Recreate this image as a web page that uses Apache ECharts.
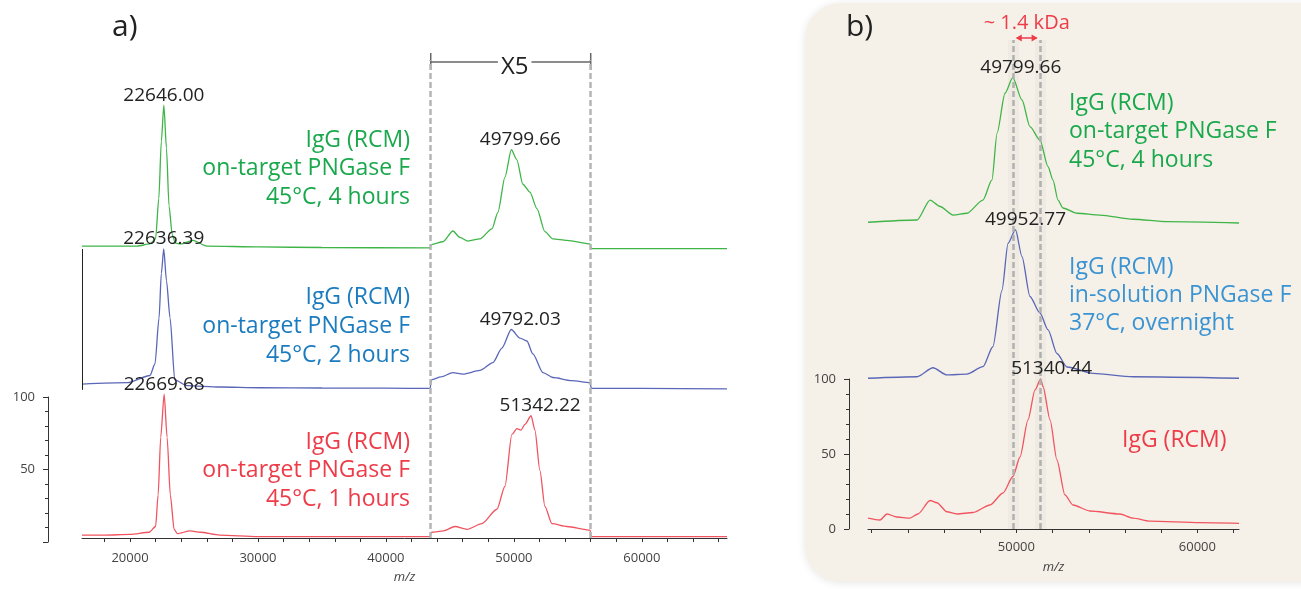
<!DOCTYPE html>
<html>
<head>
<meta charset="utf-8">
<script src="https://cdn.jsdelivr.net/npm/echarts@6/dist/echarts.min.js"></script>
<style>
html,body{margin:0;padding:0;background:#fff;}
#c{width:1301px;height:589px;}
</style>
</head>
<body>
<div id="c"></div>
<script>
// ---------- Panel a data (X5 region values are shown as displayed, i.e. already x5) ----------
const aRedX = [16250,18000,20000,21500,22000,22200,22400,22670,22900,23150,23450,23700,24700,25500,27000,30000,35000,40000,43450,
  43550,44500,45390,46330,47500,48670,49300,49840,50230,50550,50860,51342,51640,52030,52420,52970,54140,55950,
  56050,60000,66650];
const aRedY = [2,2,2.5,4,8,30,70,100,70,30,6,3,5,4,2,1,1,1,1,
  4,5,8,6,10,20,36,72,76,75,79,85,75,47,22,10,8,5.5,
  1,1,1];

const aBlueX = [16250,19800,21560,21950,22270,22450,22636,22850,23130,23500,24450,27000,30150,35000,40000,43450,
  43550,44300,45230,46020,47340,48360,49060,49792,50470,51020,51480,52270,53050,54500,55950,
  56050,60000,66650];
const aBlueY = [3,4,9,17,49,80,97,75,49,6,2,1,0.5,0.3,0.2,0,
  6,8,11,10,12.5,18,28,41,35,33,24,11,7.6,5.5,4,
  0,0,-0.3];

const aGreenX = [16250,18440,20550,21560,22000,22250,22450,22646,22850,23050,23300,23550,23980,24920,26000,30150,35000,43450,
  43550,44450,45230,45780,46400,47340,48280,48750,49300,49800,50230,50700,51250,51800,52420,53050,54140,55950,
  56050,60000,66650];
const aGreenY = [2,2,2,3.5,7,35,75,100,70,30,10,4,3.5,6,2,1.4,1,0.7,
  3,5,12.5,8,5.5,7,14,25.5,50,69,62,45,39.5,28,12,7,6,3.5,
  0.3,0.3,0.3];

const aPeaks = {
  red:   [[22670,100,'22669.68',0],[51342,85,'51342.22',9]],
  blue:  [[22636,97,'22636.39',0],[49792,41,'49792.03',9]],
  green: [[22646,100,'22646.00',0],[49800,69,'49799.66',9]]
};
const aZoomRange = [43500, 56000];
const aTicks = [18000,20000,22000,24000,26000,28000,30000,32000,34000,36000,38000,40000,42000,44000,46000,48000,50000,52000,54000,56000,58000,60000,62000,64000,66000];
const aLabels = [20000,30000,40000,50000,60000];

// ---------- Panel b data ----------
const bRedX = [41800,42460,42850,43400,44120,44560,45230,45610,46160,46720,47600,48540,49260,49810,50200,50640,51030,51340,51470,51860,52240,52680,53130,54060,55720,56440,57380,60140,62300];
const bRedY = [7.3,6,10,8,7.3,10,19,17.5,11.5,10,11,16,24,35,48,72.7,92.7,100,95,72.7,46,22.7,16,12,10,7.3,5.3,4.2,3.8];

const bBlueX = [41800,44510,45390,46160,47270,48150,48700,49200,49540,49950,50310,50750,51300,51750,52240,52800,54230,56440,62300];
const bBlueY = [0.5,1.5,7.5,2.7,3.3,8.2,21.5,59,90.5,99.5,81.5,55,44,32.7,17,8,3.8,1.5,0.5];

const bGreenX = [41800,44510,45230,45780,46500,47270,48150,48650,48930,49370,49800,50310,50750,51300,51750,52020,52300,52570,53350,54620,56440,58320,62300];
const bGreenY = [0.5,2,15.3,11,5.3,6.5,15.3,28.7,59.8,86.5,96.9,82,64.2,55.3,37.5,28.7,15.3,10,6.5,5.3,2.5,0.9,0];

const bPeaks = {
  red:   [[51340,100,'51340.44',11]],
  blue:  [[49950,99.5,'49952.77',10]],
  green: [[49800,96.9,'49799.66',8]]
};
const bMarkers = [49800, 51340];
const bTicks = [42000,44000,46000,48000,50000,52000,54000,56000,58000,60000,62000];
const bLabels = [50000,60000];

// stacking offsets (layout)
const aOff = {red:0, blue:104, green:201};
const bOff = {red:0, blue:100, green:204};

const FONT = "'Open Sans', 'Noto Sans', sans-serif";
const C = {
  redLine:'#ef5560', blueLine:'#5a67b8', greenLine:'#3fb548',
  redText:'#ee3b48', blueTextA:'#1a7bbf', blueTextB:'#3a93d3', greenText:'#1aa84c',
  num:'#222', axis:'#333', axisLabel:'#444'
};

function pts(xs, ys, off){ return xs.map((x,i)=>[x, ys[i]+off]); }
function peakMP(list, off){
  return {
    symbol:'circle', symbolSize:1, silent:true,
    itemStyle:{color:'rgba(0,0,0,0)'},
    label:{show:true, position:'top', distance:0, formatter:'{b}', color:C.num, fontSize:19, fontFamily:FONT},
    data:list.map(p=>({name:p[2], coord:[p[0], p[1]+off], label:{offset:[p[3],0]}}))
  };
}
function lineSeries(name, xi, yi, data, color, mp, extra){
  return Object.assign({
    name, type:'line', xAxisIndex:xi, yAxisIndex:yi, data, symbol:'none',
    smooth:0.25, smoothMonotone:'x', clip:false,
    lineStyle:{color, width:1.3}, itemStyle:{color}, markPoint:mp, z:3
  }, extra||{});
}

const chart = echarts.init(document.getElementById('c'), null, {renderer:'canvas'});

const xBase = (gi, min, max, ticks, labels, margin, gap) => ({
  type:'value', gridIndex:gi, min, max,
  axisLine:{show:true, lineStyle:{color:C.axis, width:1}},
  axisTick:{show:true, customValues:ticks, length:4, lineStyle:{color:C.axis}},
  axisLabel:{customValues:labels, color:C.axisLabel, fontSize:13, fontFamily:FONT, margin,
    formatter:v=>String(v)},
  splitLine:{show:false},
  name:'m/z', nameLocation:'middle', nameGap:gap,
  nameTextStyle:{fontStyle:'italic', color:C.axisLabel, fontSize:13, fontFamily:FONT}
});
const yScaleAxis = (gi, hideZero) => ({
  type:'value', gridIndex:gi, min:0, max:100, interval:50,
  axisLine:{show:true, lineStyle:{color:C.axis}},
  axisTick:{show:true, length:5, lineStyle:{color:C.axis}},
  minorTick:{show:true, splitNumber:5, length:3, lineStyle:{color:C.axis}},
  axisLabel:{color:C.axisLabel, fontSize:13, fontFamily:FONT, margin:13,
    formatter:v=> (hideZero && v===0) ? '' : String(v)},
  splitLine:{show:false}
});

const option = {
  animation:false,
  backgroundColor:'transparent',
  grid:[
    {left:82, right:574, top:60, bottom:47},
    {left:48, top:397, width:1, height:145},
    {left:868, right:62, top:40, bottom:60},
    {left:849, top:379, width:1, height:150}
  ],
  xAxis:[
    xBase(0, 16250, 66650, aTicks, aLabels, 14, 33),
    {type:'value', gridIndex:1, show:false, min:0, max:1},
    xBase(2, 41800, 62300, bTicks, bLabels, 12, 32),
    {type:'value', gridIndex:3, show:false, min:0, max:1}
  ],
  yAxis:[
    {type:'value', gridIndex:0, min:0, max:332.4, show:false},
    yScaleAxis(1, true),
    {type:'value', gridIndex:2, min:0, max:326, show:false},
    yScaleAxis(3, false)
  ],
  series:[
    lineSeries('a-red',0,0,pts(aRedX,aRedY,aOff.red),C.redLine,peakMP(aPeaks.red,aOff.red),{
      markLine:{symbol:'none', silent:true, label:{show:false},
        lineStyle:{color:'#b5b5b5', type:[6,3], width:2.5},
        data:[{xAxis:aZoomRange[0]},{xAxis:aZoomRange[1]}]}
    }),
    lineSeries('a-blue',0,0,pts(aBlueX,aBlueY,aOff.blue),C.blueLine,peakMP(aPeaks.blue,aOff.blue),{
      markLine:{symbol:'none', silent:true, label:{show:false},
        lineStyle:{color:'#222', type:'solid', width:1},
        data:[[{coord:[16250, aOff.blue-1]},{coord:[16250, aOff.green]}]]}
    }),
    lineSeries('a-green',0,0,pts(aGreenX,aGreenY,aOff.green),C.greenLine,peakMP(aPeaks.green,aOff.green)),
    {type:'line', xAxisIndex:1, yAxisIndex:1, data:[]},
    lineSeries('b-red',2,2,pts(bRedX,bRedY,bOff.red),C.redLine,peakMP(bPeaks.red,bOff.red),{
      markLine:{symbol:'none', silent:true, label:{show:false},
        lineStyle:{color:'#b0b0b0', type:[6,3], width:2.5},
        data:bMarkers.map(v=>({xAxis:v}))}
    }),
    lineSeries('b-blue',2,2,pts(bBlueX,bBlueY,bOff.blue),C.blueLine,peakMP(bPeaks.blue,bOff.blue),{
      markLine:{symbol:'none', silent:true, label:{show:false}, z:1,
        lineStyle:{color:'rgba(170,170,170,0.08)', type:'solid', width:11},
        data:bMarkers.map(v=>({xAxis:v}))}
    }),
    lineSeries('b-green',2,2,pts(bGreenX,bGreenY,bOff.green),C.greenLine,peakMP(bPeaks.green,bOff.green)),
    {type:'line', xAxisIndex:3, yAxisIndex:3, data:[]}
  ]
};
chart.setOption(option);

// annotation positions derived from the axes
const zx0 = chart.convertToPixel({xAxisIndex:0}, aZoomRange[0]);
const zx1 = chart.convertToPixel({xAxisIndex:0}, aZoomRange[1]);
const mx0 = chart.convertToPixel({xAxisIndex:2}, bMarkers[0]);
const mx1 = chart.convertToPixel({xAxisIndex:2}, bMarkers[1]);

const txt = (x,y,text,fill,size,align,lh,extra) => Object.assign({
  type:'text', x, y, silent:true,
  style:{text, fill, font:size+'px '+FONT, textAlign:align||'left', textVerticalAlign:'top', lineHeight:lh||size}
}, extra||{});

const bracketY = 62;
const DS = 23; // description font size
chart.setOption({
  graphic:[
    {type:'rect', z:-100, silent:true, shape:{x:805, y:3, width:540, height:579, r:36},
      style:{fill:'#f6f1e8', shadowBlur:8, shadowColor:'rgba(0,0,0,0.10)', shadowOffsetY:1}},
    txt(112, 12, 'a)', '#222', 30),
    txt(846, 12, 'b)', '#222', 30),
    // X5 bracket
    {type:'line', silent:true, shape:{x1:zx0, y1:bracketY, x2:zx1, y2:bracketY}, style:{stroke:'#666', lineWidth:1.5}},
    {type:'line', silent:true, shape:{x1:zx0, y1:bracketY-9, x2:zx0, y2:bracketY+8}, style:{stroke:'#666', lineWidth:1.5}},
    {type:'line', silent:true, shape:{x1:zx1, y1:bracketY-9, x2:zx1, y2:bracketY+8}, style:{stroke:'#666', lineWidth:1.5}},
    {type:'text', silent:true, x:(zx0+zx1)/2+4, y:67,
      style:{text:'X5', fill:'#222', font:'24px '+FONT, textAlign:'center', textVerticalAlign:'middle',
        backgroundColor:'#fff', padding:[0,3]}},
    // panel a descriptions
    txt(410, 126, 'IgG (RCM)\non-target PNGase F\n45°C, 4 hours', C.greenText, DS, 'right', 28.5),
    txt(410, 283, 'IgG (RCM)\non-target PNGase F\n45°C, 2 hours', C.blueTextA, DS, 'right', 29),
    txt(410, 428, 'IgG (RCM)\non-target PNGase F\n45°C, 1 hours', C.redText, DS, 'right', 28.5),
    // panel b descriptions
    txt(1069, 89, 'IgG (RCM)\non-target PNGase F\n45°C, 4 hours', C.greenText, DS, 'left', 28.5),
    txt(1069, 253, 'IgG (RCM)\nin-solution PNGase F\n37°C, overnight', C.blueTextB, DS, 'left', 28),
    txt(1122, 426, 'IgG (RCM)', C.redText, DS, 'left', 28),
    // ~1.4 kDa arrow
    {type:'text', silent:true, x:(mx0+mx1)/2, y:23,
      style:{text:'~ 1.4 kDa', fill:C.redText, font:'20px '+FONT, textAlign:'center', textVerticalAlign:'middle'}},
    {type:'line', silent:true, shape:{x1:mx0+4, y1:38, x2:mx1-4, y2:38}, style:{stroke:C.redText, lineWidth:1.5}},
    {type:'polygon', silent:true, shape:{points:[[mx0+3,38],[mx0+9,34.5],[mx0+9,41.5]]}, style:{fill:C.redText}},
    {type:'polygon', silent:true, shape:{points:[[mx1-3,38],[mx1-9,34.5],[mx1-9,41.5]]}, style:{fill:C.redText}}
  ]
});
</script>
</body>
</html>
